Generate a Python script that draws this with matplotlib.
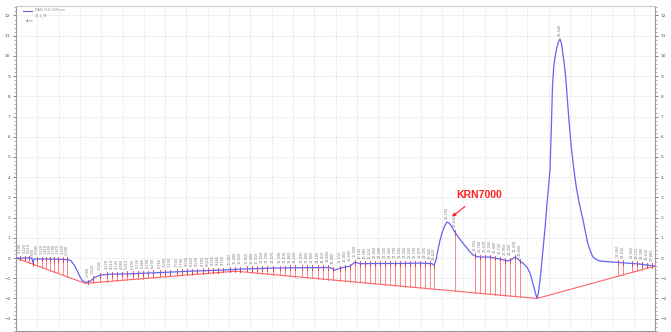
import matplotlib
matplotlib.use("Agg")
import matplotlib.pyplot as plt
import numpy as np
from matplotlib.ticker import MultipleLocator

# Chromatogram trace (time in min, signal)
trace_t = [0.0, 0.66, 0.75, 0.80, 0.85, 1.6, 2.44, 2.55, 2.63, 2.75, 2.86, 2.98, 3.10, 3.24,
           3.35, 3.47, 3.60, 3.71, 3.94,
           4.41, 5.35, 6.76, 8.17, 9.58, 10.52, 11.92, 13.33, 14.74, 14.98, 15.21, 15.68,
           15.92, 16.15, 17.09, 18.03, 18.97, 19.53, 19.62, 19.72, 19.81, 19.90, 20.0, 20.12,
           20.23, 20.35, 20.47, 20.58, 20.70, 20.82, 20.94, 21.05, 21.17, 21.30, 21.46, 21.62,
           21.78, 22.25, 22.72, 23.10, 23.29, 23.43, 23.57, 23.66, 23.83,
           23.99, 24.12, 24.23, 24.35, 24.46, 24.53, 24.60, 24.67, 24.74, 24.84, 24.93, 25.0,
           25.07, 25.13, 25.19, 25.25, 25.31, 25.38, 25.45, 25.54, 25.61, 25.68, 25.75,
           25.82, 25.89, 25.96, 26.08, 26.20, 26.32, 26.43, 26.53, 26.62, 26.72, 26.81, 26.88,
           26.95, 27.02, 27.09, 27.25, 27.42, 28.03, 28.69, 29.30, 30.0]
trace_y = [0.0, 0.0, -0.02, -0.25, -0.05, -0.05, -0.08, -0.12, -0.2, -0.38, -0.6, -0.88, -1.1, -1.2,
           -1.2, -1.15, -1.05, -0.95, -0.85,
           -0.8, -0.78, -0.72, -0.65, -0.6, -0.55, -0.5, -0.48, -0.47, -0.6, -0.5, -0.4,
           -0.2, -0.28, -0.27, -0.27, -0.25, -0.28, -0.35, -0.1, 0.4, 0.85, 1.24, 1.58,
           1.78, 1.72, 1.53, 1.32, 1.14, 0.96, 0.8, 0.64, 0.5, 0.32, 0.15, 0.08,
           0.05, 0.05, -0.05, -0.15, -0.05, 0.05, -0.05, -0.15, -0.28,
           -0.45, -0.72, -1.1, -1.6, -2.0, -1.7, -1.1, -0.4, 0.4, 1.5, 2.7, 3.5,
           4.36, 6.3, 8.6, 9.5, 9.95, 10.35, 10.65, 10.84, 10.6, 10.1, 9.5,
           8.8, 7.8, 6.8, 5.4, 4.3, 3.4, 2.8, 2.3, 1.9, 1.35, 0.9, 0.6,
           0.4, 0.2, 0.05, -0.08, -0.15, -0.2, -0.25, -0.3, -0.4]

# Integration baseline vertices
base_t = [0.0, 3.24, 10.3, 24.46, 30.0]
base_y = [0.0, -1.25, -0.65, -2.0, -0.4]

# Peak drop-line times (min)
drops = [0.19, 0.42, 0.61, 0.80, 0.99, 1.22, 1.41, 1.60, 1.78, 1.97, 2.20, 2.39,
         3.38, 3.62, 3.94, 4.27, 4.51, 4.74, 4.98, 5.21, 5.49, 5.73, 5.96, 6.20, 6.43,
         6.76, 7.00, 7.23, 7.56, 7.79, 8.03, 8.26, 8.50, 8.78, 9.01, 9.25, 9.48, 9.72,
         10.05, 10.28, 10.52, 10.85, 11.08, 11.31, 11.55, 11.78, 12.07, 12.39, 12.63,
         12.86, 13.10, 13.43, 13.66, 13.90, 14.18, 14.41, 14.65, 14.88, 15.21, 15.45,
         15.68, 15.92, 16.15, 16.38, 16.62, 16.85, 17.09, 17.32, 17.56, 17.79, 18.03,
         18.26, 18.50, 18.73, 18.97, 19.20, 19.44, 19.62,
         20.61, 21.55, 21.78, 22.01, 22.25, 22.48, 22.72, 22.95, 23.20, 23.43, 23.66,
         28.26, 28.50, 28.92, 29.15, 29.39, 29.62, 29.86]

label_text = "KRN7000"
legend_lines = ["DAD-CH1 558 nm", "20-1_M", "Area"]

tr_t = np.array(trace_t)
tr_y = np.array(trace_y)

fig = plt.figure(figsize=(6.71, 3.32), dpi=100)
ax = fig.add_axes([16/671, 1-331/332, (655-16)/671, (331-6)/332])
ax.set_xlim(0, 30)
ax.set_ylim(-3.61, 12.47)

blue = "#6464f2"
red = "#ff6464"
gray = "#7a7a7a"

# drop lines
for d in drops:
    yt = np.interp(d, tr_t, tr_y)
    yb = np.interp(d, base_t, base_y)
    ax.plot([d, d], [yb, yt], color=red, lw=0.6, alpha=0.9, zorder=2)
    ax.plot([d, d], [yt - 0.12, yt + 0.12], color="#e83030", lw=0.6, zorder=3)
    ax.text(d, yt + 0.25, f"{d:.3f}", rotation=90, fontsize=2.5,
            color=gray, ha="center", va="bottom", zorder=4)

# apex labels
ax.text(25.54, 11.0, "25.540", rotation=90, fontsize=2.5, color=gray,
        ha="center", va="bottom")
ax.text(20.23, 1.95, "20.230", rotation=90, fontsize=2.5, color=gray,
        ha="center", va="bottom")

ax.plot(base_t, base_y, color=red, lw=0.8, zorder=2)
ax.plot(tr_t, tr_y, color=blue, lw=0.9, zorder=5)

# annotation
ax.annotate(label_text, xy=(20.47, 2.05), xytext=(21.75, 3.1),
            fontsize=7.5, fontweight="bold", color="#ff2020", family="Liberation Sans",
            ha="center", va="center",
            arrowprops=dict(arrowstyle="-|>", color="#ff2020", lw=0.8,
                            mutation_scale=5, shrinkA=4, shrinkB=0))

# legend-like text
ax.plot([0.33, 0.75], [12.2, 12.2], color=blue, lw=0.8)
ax.text(0.9, 12.27, legend_lines[0], fontsize=2.4, color="#888888", va="center")
ax.text(0.9, 12.03, legend_lines[1], fontsize=2.4, color="#888888", va="center")
ax.text(0.45, 11.75, legend_lines[2], fontsize=2.4, color="#888888", va="center")

# axes styling
ax.xaxis.set_major_locator(MultipleLocator(1))
ax.yaxis.set_major_locator(MultipleLocator(1))
ax.yaxis.set_minor_locator(MultipleLocator(0.2))
ax.grid(True, which="major", color="#cfcfcf", lw=0.5, ls=(0, (1, 1.5)))
ax.tick_params(axis="x", which="both", length=0, labelbottom=False)
ax.tick_params(axis="y", which="major", length=2.5, width=0.5, labelsize=3.2,
               colors="#555555", left=True, right=True, labelleft=True, labelright=True, pad=1.5)
ax.tick_params(axis="y", which="minor", length=1.2, width=0.4, colors="#777777",
               left=True, right=True)
for s in ax.spines.values():
    s.set_color("#9a9a9a")
    s.set_linewidth(0.8)
ax.spines["top"].set_color("#cccccc")

fig.savefig("out.png", dpi=100)
